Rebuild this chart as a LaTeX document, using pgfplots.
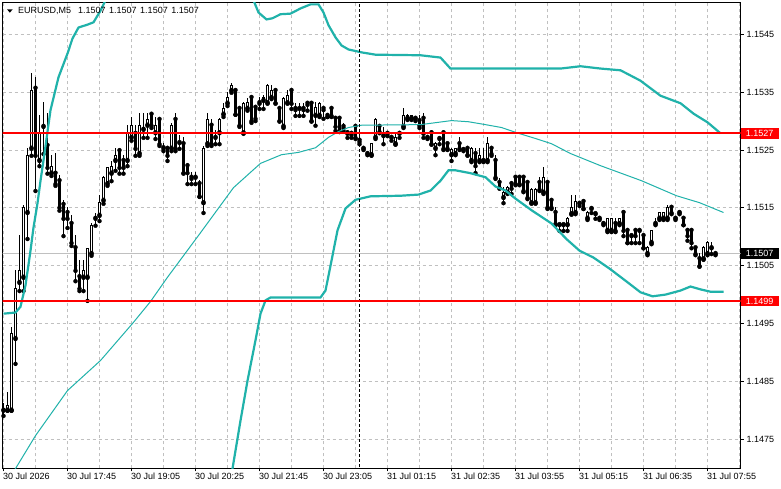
\documentclass[border=0pt]{standalone}
\usepackage{fontspec}
\setmainfont{Liberation Sans}
\usepackage{pgfplots}
\pgfplotsset{compat=1.18}
\usepackage{pgfplotstable}
\definecolor{bb}{RGB}{32,178,170}
\definecolor{gridc}{RGB}{192,192,192}

\pgfplotstableread{
i O H L C
0 1.14800 1.14812 1.14791 1.14803
1 1.14800 1.14831 1.14800 1.14808
2 1.14800 1.14943 1.14800 1.14933
3 1.14924 1.15042 1.14881 1.15011
4 1.15021 1.15102 1.15007 1.15042
5 1.15030 1.15154 1.15007 1.15151
6 1.15142 1.15253 1.15097 1.15241
7 1.15253 1.15383 1.15241 1.15353
8 1.15357 1.15376 1.15180 1.15241
9 1.15232 1.15310 1.15223 1.15280
10 1.15291 1.15332 1.15244 1.15293
11 1.15258 1.15313 1.15210 1.15220
12 1.15210 1.15241 1.15206 1.15222
13 1.15210 1.15244 1.15189 1.15192
14 1.15197 1.15206 1.15146 1.15151
15 1.15156 1.15163 1.15102 1.15132
16 1.15142 1.15151 1.15116 1.15132
17 1.15123 1.15137 1.15085 1.15090
18 1.15081 1.15102 1.15024 1.15042
19 1.15031 1.15059 1.15007 1.15011
20 1.15030 1.15059 1.15007 1.15042
21 1.15030 1.15080 1.14990 1.15080
22 1.15071 1.15123 1.15068 1.15120
23 1.15132 1.15140 1.15120 1.15133
24 1.15137 1.15171 1.15128 1.15159
25 1.15163 1.15204 1.15158 1.15203
26 1.15192 1.15220 1.15189 1.15220
27 1.15210 1.15230 1.15197 1.15222
28 1.15232 1.15253 1.15215 1.15241
29 1.15249 1.15253 1.15210 1.15220
30 1.15232 1.15241 1.15210 1.15220
31 1.15232 1.15293 1.15223 1.15280
32 1.15272 1.15306 1.15267 1.15293
33 1.15279 1.15293 1.15241 1.15253
34 1.15244 1.15313 1.15241 1.15293
35 1.15286 1.15313 1.15272 1.15289
36 1.15293 1.15313 1.15272 1.15303
37 1.15312 1.15313 1.15289 1.15293
38 1.15280 1.15306 1.15270 1.15293
39 1.15303 1.15306 1.15258 1.15261
40 1.15254 1.15261 1.15249 1.15253
41 1.15253 1.15256 1.15232 1.15241
42 1.15253 1.15296 1.15249 1.15293
43 1.15303 1.15313 1.15249 1.15253
44 1.15263 1.15275 1.15253 1.15265
45 1.15261 1.15272 1.15210 1.15211
46 1.15223 1.15227 1.15192 1.15211
47 1.15203 1.15211 1.15192 1.15201
48 1.15203 1.15211 1.15192 1.15204
49 1.15192 1.15197 1.15170 1.15170
50 1.15159 1.15256 1.15142 1.15253
51 1.15261 1.15313 1.15258 1.15303
52 1.15293 1.15303 1.15258 1.15261
53 1.15272 1.15284 1.15261 1.15274
54 1.15280 1.15305 1.15261 1.15303
55 1.15312 1.15331 1.15308 1.15322
56 1.15331 1.15350 1.15327 1.15341
57 1.15353 1.15365 1.15350 1.15362
58 1.15353 1.15357 1.15312 1.15312
59 1.15322 1.15325 1.15291 1.15293
60 1.15280 1.15332 1.15279 1.15331
61 1.15322 1.15339 1.15319 1.15332
62 1.15341 1.15344 1.15298 1.15301
63 1.15324 1.15327 1.15301 1.15305
64 1.15332 1.15341 1.15322 1.15331
65 1.15336 1.15344 1.15322 1.15341
66 1.15332 1.15363 1.15331 1.15362
67 1.15341 1.15362 1.15339 1.15353
68 1.15353 1.15357 1.15331 1.15332
69 1.15322 1.15325 1.15300 1.15301
70 1.15291 1.15341 1.15289 1.15339
71 1.15332 1.15353 1.15331 1.15344
72 1.15353 1.15355 1.15322 1.15331
73 1.15322 1.15331 1.15310 1.15320
74 1.15322 1.15331 1.15310 1.15324
75 1.15322 1.15331 1.15310 1.15320
76 1.15331 1.15332 1.15319 1.15329
77 1.15331 1.15332 1.15300 1.15301
78 1.15310 1.15332 1.15293 1.15324
79 1.15310 1.15332 1.15308 1.15331
80 1.15322 1.15324 1.15305 1.15320
81 1.15310 1.15312 1.15308 1.15308
82 1.15322 1.15324 1.15308 1.15310
83 1.15305 1.15306 1.15284 1.15291
84 1.15305 1.15306 1.15282 1.15284
85 1.15291 1.15296 1.15284 1.15289
86 1.15280 1.15284 1.15272 1.15279
87 1.15279 1.15280 1.15272 1.15277
88 1.15291 1.15293 1.15270 1.15272
89 1.15267 1.15272 1.15261 1.15265
90 1.15253 1.15256 1.15251 1.15252
91 1.15244 1.15246 1.15242 1.15244
92 1.15242 1.15261 1.15241 1.15261
93 1.15272 1.15305 1.15270 1.15303
94 1.15291 1.15293 1.15280 1.15282
95 1.15275 1.15289 1.15261 1.15275
96 1.15279 1.15282 1.15275 1.15279
97 1.15272 1.15275 1.15267 1.15272
98 1.15261 1.15279 1.15260 1.15272
99 1.15279 1.15282 1.15272 1.15279
100 1.15291 1.15322 1.15289 1.15310
101 1.15305 1.15312 1.15303 1.15310
102 1.15305 1.15310 1.15303 1.15310
103 1.15305 1.15308 1.15301 1.15305
104 1.15301 1.15310 1.15289 1.15293
105 1.15305 1.15313 1.15272 1.15279
106 1.15272 1.15275 1.15270 1.15272
107 1.15280 1.15284 1.15260 1.15261
108 1.15253 1.15263 1.15242 1.15261
109 1.15270 1.15272 1.15261 1.15270
110 1.15280 1.15284 1.15251 1.15253
111 1.15261 1.15263 1.15251 1.15253
112 1.15242 1.15253 1.15232 1.15251
113 1.15244 1.15253 1.15242 1.15253
114 1.15261 1.15272 1.15251 1.15253
115 1.15251 1.15253 1.15249 1.15251
116 1.15253 1.15254 1.15241 1.15242
117 1.15232 1.15254 1.15230 1.15253
118 1.15244 1.15253 1.15211 1.15223
119 1.15232 1.15253 1.15230 1.15241
120 1.15232 1.15253 1.15230 1.15234
121 1.15232 1.15272 1.15230 1.15261
122 1.15253 1.15254 1.15241 1.15244
123 1.15232 1.15241 1.15201 1.15203
124 1.15194 1.15201 1.15184 1.15185
125 1.15168 1.15185 1.15159 1.15177
126 1.15177 1.15187 1.15175 1.15185
127 1.15192 1.15194 1.15175 1.15184
128 1.15203 1.15204 1.15190 1.15192
129 1.15203 1.15204 1.15190 1.15192
130 1.15203 1.15204 1.15178 1.15180
131 1.15194 1.15196 1.15166 1.15168
132 1.15159 1.15184 1.15158 1.15182
133 1.15159 1.15184 1.15158 1.15182
134 1.15194 1.15203 1.15180 1.15182
135 1.15177 1.15220 1.15175 1.15203
136 1.15194 1.15196 1.15149 1.15151
137 1.15163 1.15164 1.15149 1.15151
138 1.15142 1.15151 1.15121 1.15123
139 1.15121 1.15123 1.15111 1.15121
140 1.15121 1.15123 1.15111 1.15121
141 1.15121 1.15133 1.15111 1.15132
142 1.15140 1.15171 1.15139 1.15151
143 1.15142 1.15171 1.15140 1.15161
144 1.15158 1.15161 1.15154 1.15158
145 1.15161 1.15163 1.15149 1.15149
146 1.15132 1.15144 1.15130 1.15142
147 1.15149 1.15151 1.15142 1.15149
148 1.15140 1.15142 1.15132 1.15140
149 1.15132 1.15133 1.15130 1.15132
150 1.15123 1.15125 1.15121 1.15123
151 1.15111 1.15132 1.15109 1.15132
152 1.15111 1.15132 1.15109 1.15132
153 1.15123 1.15132 1.15109 1.15111
154 1.15123 1.15132 1.15121 1.15132
155 1.15142 1.15144 1.15102 1.15111
156 1.15111 1.15113 1.15090 1.15090
157 1.15102 1.15104 1.15090 1.15102
158 1.15111 1.15113 1.15090 1.15102
159 1.15111 1.15113 1.15090 1.15111
160 1.15102 1.15104 1.15081 1.15081
161 1.15071 1.15083 1.15069 1.15081
162 1.15090 1.15111 1.15088 1.15111
163 1.15123 1.15132 1.15121 1.15123
164 1.15132 1.15142 1.15130 1.15142
165 1.15132 1.15142 1.15130 1.15142
166 1.15132 1.15154 1.15130 1.15151
167 1.15151 1.15154 1.15140 1.15142
168 1.15132 1.15133 1.15130 1.15132
169 1.15142 1.15144 1.15140 1.15142
170 1.15132 1.15133 1.15121 1.15121
171 1.15111 1.15113 1.15094 1.15102
172 1.15111 1.15113 1.15081 1.15090
173 1.15081 1.15083 1.15069 1.15071
174 1.15062 1.15071 1.15049 1.15050
175 1.15062 1.15083 1.15061 1.15081
176 1.15071 1.15092 1.15069 1.15090
177 1.15081 1.15090 1.15071 1.15083
178 1.15071 1.15071 1.15069 1.15071
}\candles

\pgfplotstableread{
x y
0 1.14967
3 1.14969
4.25 1.14979
5.5 1.15016
6.75 1.15076
7.5 1.15116
8.5 1.15158
9.25 1.15197
10 1.15232
11.75 1.15319
13.75 1.15376
16 1.15417
17.25 1.15443
18.75 1.15462
21 1.15467
22.5 1.15471
24.25 1.15491
25.5 1.15509
29 1.15530
36 1.15560
45 1.15580
52 1.15570
58 1.15540
62.5 1.15509
63.75 1.15488
65.75 1.15476
67.25 1.15478
69.25 1.15485
71.75 1.15486
74.25 1.15495
76.75 1.15502
78.75 1.15502
80 1.15488
81.25 1.15466
83 1.15445
84.5 1.15431
86.25 1.15424
89.5 1.15419
93 1.15415
104.25 1.15414
109.25 1.15410
111.75 1.15391
139.25 1.15391
144.25 1.15395
149.25 1.15391
154.25 1.15388
159.25 1.15370
164.25 1.15344
169.25 1.15331
172.5 1.15313
176 1.15298
179.25 1.15279
}\upperband

\pgfplotstableread{
x y
0 1.14675
3 1.14699
8 1.14756
16 1.14834
24.25 1.14886
32.25 1.14950
36.75 1.14988
41 1.15030
49.25 1.15107
57.5 1.15185
64.25 1.15227
69.5 1.15242
73.75 1.15246
78 1.15254
81.25 1.15272
83.75 1.15282
86.25 1.15289
89.5 1.15293
104.25 1.15294
112 1.15301
116.25 1.15299
120.5 1.15294
124.5 1.15289
128.75 1.15279
133 1.15270
137 1.15261
141.75 1.15244
149.25 1.15223
159.5 1.15197
168.25 1.15171
174 1.15159
180 1.15142
}\middleband

\pgfplotstableread{
x y
50 1.14550
55 1.14630
57.25 1.14699
59.25 1.14782
61 1.14851
63 1.14921
64.25 1.14967
65.5 1.14990
66.75 1.14995
79.25 1.14995
80.5 1.15007
81.75 1.15050
83.5 1.15111
85.5 1.15149
88 1.15164
91.75 1.15170
99.25 1.15171
103.75 1.15173
106.75 1.15180
109.25 1.15197
111.25 1.15215
113 1.15215
116.75 1.15210
120.5 1.15203
123 1.15187
125.5 1.15180
128 1.15166
132 1.15146
137 1.15123
140.75 1.15096
144 1.15076
147.5 1.15064
151.5 1.15045
155.5 1.15024
159.25 1.15004
162.25 1.14997
165.5 1.15000
169.25 1.15007
171.75 1.15014
174.25 1.15009
176.75 1.15005
180 1.15005
}\lowerband

\begin{document}
\begin{tikzpicture}[x=1bp,y=1bp]
\path[use as bounding box, fill=white] (0,0) rectangle (781,489);
\begin{axis}[
  at={(2.5bp,20.5bp)}, anchor=south west,
  scale only axis, width=738bp, height=466bp,
  xmin=-0.25, xmax=184.25, ymin=1.146992, ymax=1.155053,
  axis line style={black, line width=1bp},
  xtick={0,16,...,176},
  xticklabels={30 Jul 2026,30 Jul 17:45,30 Jul 19:05,30 Jul 20:25,30 Jul 21:45,30 Jul 23:05,31 Jul 01:15,31 Jul 02:35,31 Jul 03:55,31 Jul 05:15,31 Jul 06:35,31 Jul 07:55},
  minor xtick={8,24,40,56,72,88,104,120,136,152,168,184},
  ytick={1.1475,1.1485,1.1495,1.1505,1.1515,1.1525,1.1535,1.1545},
  yticklabels={1.1475,1.1485,1.1495,1.1505,1.1515,1.1525,1.1535,1.1545},
  xtick pos=left, ytick pos=right,
  tick align=outside, major tick length=3bp, minor tick length=0pt,
  tick style={black, line width=1bp},
  grid=both,
  major grid style={gridc, dash pattern=on 3bp off 3bp, line width=1bp},
  minor grid style={gridc, dash pattern=on 3bp off 3bp, line width=1bp},
  tick label style={font=\fontsize{9bp}{10bp}\selectfont},
  xticklabel style={anchor=north west, inner sep=0pt, xshift=-0.5bp, yshift=-1.5bp},
  yticklabel style={anchor=west, inner sep=0pt, xshift=3bp},
  clip mode=individual,
]
% current price line
\addplot[gridc, line width=1bp, forget plot] coordinates {(-1,1.15071) (190,1.15071)};
% wicks
\addplot[only marks, mark=none, forget plot,
  error bars/.cd, y dir=plus, y explicit, error mark=none,
  error bar style={draw=black, line width=1bp, line cap=butt}]
  table[x=i, y expr={\thisrow{L}-0.00000865}, y error expr={\thisrow{H}-\thisrow{L}+0.0000173}] {\candles};
% bodies
\addplot[only marks, mark=none, forget plot,
  error bars/.cd, y dir=plus, y explicit, error mark=none,
  error bar style={draw=black, line width=3bp, line cap=butt}]
  table[x=i, y expr={min(\thisrow{O},\thisrow{C})-0.00000865}, y error expr={abs(\thisrow{C}-\thisrow{O})+0.0000173}] {\candles};
% hollow interiors of rising candles
\addplot[only marks, mark=none, forget plot,
  error bars/.cd, y dir=plus, y explicit, error mark=none,
  error bar style={draw=white, line width=1bp, line cap=butt}]
  table[x=i, y expr={\thisrow{O}+0.00000865}, y error expr={max(\thisrow{C}-\thisrow{O}-0.0000173,0)}] {\candles};
% Bollinger bands
\addplot[bb, line width=2.2bp, mark=none] table[x=x,y=y] {\upperband};
\addplot[bb, line width=1bp, mark=none] table[x=x,y=y] {\middleband};
\addplot[bb, line width=2.2bp, mark=none] table[x=x,y=y] {\lowerband};
% day separator
\addplot[black, line width=1bp, dash pattern=on 3bp off 2bp, mark=none] coordinates {(89,1.1465) (89,1.1556)};
% horizontal levels
\addplot[red, line width=2bp, mark=none] coordinates {(-1,1.15279) (190,1.15279)};
\addplot[red, line width=2bp, mark=none] coordinates {(-1,1.14989) (190,1.14989)};
% price tags
\node[fill=red, text=white, anchor=west, minimum width=38bp, minimum height=10.5bp, inner sep=0pt, font=\fontsize{9bp}{10bp}\selectfont] at (axis cs:184.25,1.15279) {1.1527};
\node[fill=black, text=white, anchor=west, minimum width=38bp, minimum height=10.5bp, inner sep=0pt, font=\fontsize{9bp}{10bp}\selectfont] at (axis cs:184.25,1.15071) {1.1507};
\node[fill=red, text=white, anchor=west, minimum width=38bp, minimum height=10.5bp, inner sep=0pt, font=\fontsize{9bp}{10bp}\selectfont] at (axis cs:184.25,1.14989) {1.1499};
\end{axis}
% title
\fill[black] (7,479.7) -- (12.7,479.7) -- (9.85,476.3) -- cycle;
\node[anchor=base west, inner sep=0pt, font=\fontsize{9bp}{10bp}\selectfont] at (18,475) {EURUSD,M5\hspace{7bp}1.1507\hspace{3.5bp}1.1507\hspace{3.5bp}1.1507\hspace{3.5bp}1.1507};
\end{tikzpicture}
\end{document}
